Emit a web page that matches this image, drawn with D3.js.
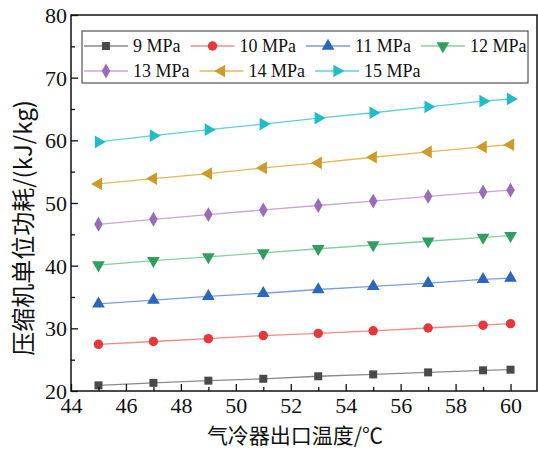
<!DOCTYPE html>
<html>
<head>
<meta charset="utf-8">
<script src="https://cdn.jsdelivr.net/npm/d3@7"></script>
<style>
  body { margin: 0; background: #fff; }
  svg text { font-family: "Liberation Serif", "DejaVu Serif", serif; fill: #111; }
  svg text.cjk { font-family: "Noto Sans CJK SC", sans-serif; }
</style>
</head>
<body>
<svg width="538" height="450"></svg>
<script>
// data
var temps = [45, 47, 49, 51, 53, 55, 57, 59, 60];
var p9  = [20.9, 21.3, 21.65, 21.95, 22.35, 22.65, 22.97, 23.3, 23.4];
var p10 = [27.45, 27.9, 28.35, 28.85, 29.2, 29.6, 30.05, 30.5, 30.75];
var p11 = [33.9, 34.5, 35.1, 35.6, 36.2, 36.7, 37.2, 37.8, 38.0];
var p12 = [40.1, 40.8, 41.4, 42.05, 42.7, 43.3, 43.9, 44.5, 44.8];
var p13 = [46.6, 47.4, 48.15, 48.9, 49.6, 50.3, 51.05, 51.75, 52.05];
var p14 = [53.05, 53.9, 54.7, 55.6, 56.4, 57.3, 58.15, 58.95, 59.3];
var p15 = [59.75, 60.75, 61.7, 62.6, 63.55, 64.4, 65.35, 66.25, 66.6];
var seriesNames = ["9 MPa", "10 MPa", "11 MPa", "12 MPa", "13 MPa", "14 MPa", "15 MPa"];
var xTicks = [44, 46, 48, 50, 52, 54, 56, 58, 60];
var yTicks = [20, 30, 40, 50, 60, 70, 80];

var serif = "'Liberation Serif', 'DejaVu Serif', serif";

var styles = [
  {line: "#8a8a8a", fill: "#4a4a4a", shape: d3.symbolSquare, size: 64, rot: 0},
  {line: "#f28b86", fill: "#e5383b", shape: d3.symbolCircle, size: 70, rot: 0},
  {line: "#7a9fdb", fill: "#2a66bd", shape: d3.symbolTriangle, size: 70, rot: 0},
  {line: "#86cfa2", fill: "#2f9e5e", shape: d3.symbolTriangle, size: 70, rot: 180},
  {line: "#c6a6de", fill: "#9a6bb9", shape: d3.symbolDiamond, size: 64, rot: 0},
  {line: "#e3b85a", fill: "#cd9b2b", shape: d3.symbolTriangle, size: 70, rot: -90},
  {line: "#5fd0d8", fill: "#22bcc7", shape: d3.symbolTriangle, size: 70, rot: 90}
];

var svg = d3.select("svg"),
    margin = {top: 15, right: 0, bottom: 59, left: 71},
    width = svg.attr("width") - margin.left - margin.right,
    height = svg.attr("height") - margin.top - margin.bottom,
    chartGroup = svg.append("g").attr("transform", "translate(" + margin.left + "," + margin.top + ")");

var xScale = d3.scaleLinear().domain([44, 61]).range([0, width]);
var yScale = d3.scaleLinear().domain([20, 80]).range([height, 0]);

var series = [p9, p10, p11, p12, p13, p14, p15].map(function(vals, i) {
  return {
    id: seriesNames[i],
    style: styles[i],
    values: temps.map(function(t, j) { return {t: t, v: vals[j]}; })
  };
});

var line = d3.line()
  .x(function(d) { return xScale(d.t); })
  .y(function(d) { return yScale(d.v); });

function symbolPath(s) { return d3.symbol().type(s.shape).size(s.size)(); }

var g = chartGroup.selectAll(".series")
  .data(series)
  .enter().append("g")
    .attr("class", "series");

g.append("path")
  .attr("d", function(d) { return line(d.values); })
  .style("fill", "none")
  .style("stroke", function(d) { return d.style.line; })
  .style("stroke-width", 1.3);

g.selectAll(".pt")
  .data(function(d) { return d.values.map(function(p) { return {p: p, s: d.style}; }); })
  .enter().append("path")
    .attr("class", "pt")
    .attr("d", function(d) { return symbolPath(d.s); })
    .attr("transform", function(d) {
      return "translate(" + xScale(d.p.t) + "," + yScale(d.p.v) + ") rotate(" + d.s.rot + ")";
    })
    .style("fill", function(d) { return d.s.fill; });

// axes, ticks inward
var xMinor = d3.range(45, 61, 2);
var yMinor = d3.range(25, 80, 10);

chartGroup.append("g")
  .attr("transform", "translate(0," + height + ")")
  .call(d3.axisBottom(xScale).tickValues(xMinor).tickSize(-4).tickFormat(""))
  .call(function(a) { a.select(".domain").remove(); });

chartGroup.append("g")
  .attr("class", "axis axis--x")
  .attr("transform", "translate(0," + height + ")")
  .call(d3.axisBottom(xScale).tickValues(xTicks).tickSize(-7).tickSizeOuter(0).tickPadding(6))
  .call(function(a) { a.select(".domain").remove(); });

chartGroup.append("g")
  .call(d3.axisLeft(yScale).tickValues(yMinor).tickSize(-4).tickFormat(""))
  .call(function(a) { a.select(".domain").remove(); });

chartGroup.append("g")
  .attr("class", "axis axis--y")
  .call(d3.axisLeft(yScale).tickValues(yTicks).tickSize(-7).tickSizeOuter(0).tickPadding(4))
  .call(function(a) { a.select(".domain").remove(); });

chartGroup.selectAll("g").attr("font-family", serif);
chartGroup.selectAll(".tick line").style("stroke", "#111").style("stroke-width", 1.3);
chartGroup.selectAll(".axis text")
  .attr("font-family", serif)
  .style("font-family", serif)
  .style("font-size", "22px")
  .style("fill", "#111");
chartGroup.selectAll(".axis--y text").attr("dy", "0.34em");

// frame
chartGroup.append("rect")
  .attr("width", width - 1).attr("height", height)
  .style("fill", "none").style("stroke", "#111").style("stroke-width", 1.5);

// titles
svg.append("text")
  .attr("class", "cjk")
  .attr("x", 295).attr("y", 443)
  .attr("text-anchor", "middle")
  .style("font-size", "21px")
  .text("气冷器出口温度/℃");

svg.append("text")
  .attr("class", "cjk")
  .attr("transform", "translate(24,228) rotate(-90)")
  .attr("text-anchor", "middle")
  .attr("dy", "0.35em")
  .style("font-size", "24px")
  .text("压缩机单位功耗/(kJ/kg)");

// legend
var legend = svg.append("g");
legend.append("rect")
  .attr("x", 82).attr("y", 31).attr("width", 446).attr("height", 52)
  .style("fill", "#fff").style("stroke", "#333").style("stroke-width", 1);

var rows = [[0, 1, 2, 3], [4, 5, 6]];
rows.forEach(function(row, r) {
  var cx = 84, cy = 46 + r * 25;
  row.forEach(function(i) {
    var s = series[i].style;
    var e = legend.append("g").attr("transform", "translate(" + cx + "," + cy + ")");
    e.append("line").attr("x1", 0).attr("x2", 44)
      .style("stroke", s.line).style("stroke-width", 1.3);
    e.append("path").attr("d", symbolPath(s))
      .attr("transform", "translate(22,0) rotate(" + s.rot + ")")
      .style("fill", s.fill);
    var t = e.append("text").attr("x", 49).attr("dy", "0.34em")
      .attr("font-family", serif)
      .style("font-family", serif)
      .style("font-size", "18px")
      .text(series[i].id);
    cx += 49 + t.node().getComputedTextLength() + 10;
  });
});
</script>
</body>
</html>
